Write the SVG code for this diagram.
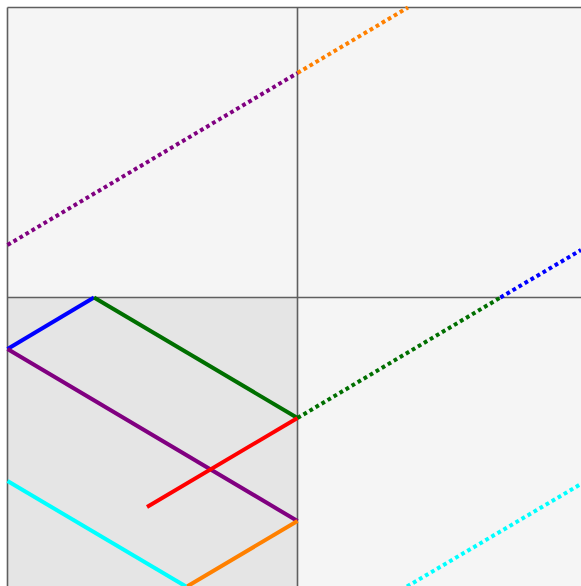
<svg xmlns="http://www.w3.org/2000/svg" width="581" height="586" viewBox="0 0 581 586">
<style>
.cell{fill:#f5f5f5}
.cell.hl{fill:#e5e5e5}
.grid{stroke:#5f5f5f;stroke-width:1.6;fill:none}
.seg{stroke-width:4;fill:none;stroke-linecap:butt}
.dot{stroke-dasharray:3.8 3.2}
</style>
<rect width="581" height="586" fill="#ffffff"/>
<g id="cells">
<rect class="cell" x="7.5" y="7.5" width="290" height="290"/>
<rect class="cell" x="297.5" y="7.5" width="290" height="290"/>
<rect class="cell hl" x="7.5" y="297.5" width="290" height="290"/>
<rect class="cell" x="297.5" y="297.5" width="290" height="290"/>
</g>
<g id="grid" class="grid">
<line x1="7.5" y1="7.5" x2="581" y2="7.5"/>
<line x1="7.5" y1="297.5" x2="581" y2="297.5"/>
<line x1="7.5" y1="7.5" x2="7.5" y2="586"/>
<line x1="297.5" y1="7.5" x2="297.5" y2="586"/>
</g>
<g id="connectors">
<line class="seg dot" stroke="#800080" x1="7.5" y1="245" x2="297.5" y2="73"/>
<line class="seg dot" stroke="#ff8000" x1="297.5" y1="73" x2="408" y2="7.5"/>
<line class="seg" stroke="#0000ff" x1="7.5" y1="349" x2="94" y2="297.5"/>
<line class="seg" stroke="#006f00" x1="94" y1="297.5" x2="297.5" y2="418"/>
<line class="seg" stroke="#800080" x1="7.5" y1="349" x2="297.5" y2="521"/>
<line class="seg" stroke="#ff0000" x1="147" y1="507" x2="297.5" y2="418" stroke-linecap="round"/>
<line class="seg" stroke="#ff8000" x1="297.5" y1="521" x2="187" y2="586.5"/>
<line class="seg" stroke="#00ffff" x1="7.5" y1="481" x2="186" y2="586.5"/>
<line class="seg dot" stroke="#006f00" x1="297.5" y1="418" x2="500.5" y2="297.5"/>
<line class="seg dot" stroke="#0000ff" x1="500.5" y1="297.5" x2="581" y2="250"/>
<line class="seg dot" stroke="#00ffff" x1="407" y1="586.5" x2="581" y2="484"/>
</g>
</svg>
